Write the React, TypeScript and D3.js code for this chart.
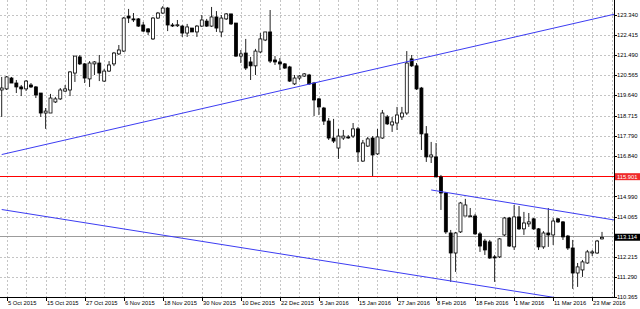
import React from "react";
import * as d3 from "d3";

const W = 640;
const H = 309;
const PLOT_RIGHT = 614;
const PLOT_BOTTOM = 297;

// Daily candles, 2 Oct 2015 .. 25 Mar 2016
const opens = [
  119.89, 119.94, 120.44, 120.21, 120.03, 119.94, 120.12, 120.03, 119.75, 118.83,
  118.83, 119.34, 119.48, 119.84, 119.89, 120.67, 121.41, 121.09, 120.40, 121.09,
  121.13, 120.30, 120.76, 121.09, 121.55, 121.68, 123.29, 123.16, 123.16, 122.88,
  122.70, 122.24, 123.20, 123.43, 123.66, 122.88, 122.88, 122.83, 122.51, 122.74,
  122.56, 122.83, 123.06, 122.83, 123.25, 122.56, 123.16, 123.39, 122.97, 121.45,
  121.59, 121.18, 121.00, 121.64, 122.19, 122.56, 121.27, 121.18, 121.09, 120.95,
  120.17, 120.44, 120.53, 120.58, 120.21, 119.48, 119.06, 118.46, 117.68, 117.22,
  117.68, 117.73, 117.77, 118.10, 116.62, 117.31, 117.68, 116.95, 117.68, 118.65,
  118.28, 118.37, 118.65, 118.83, 121.32, 121.00, 119.98, 117.87, 116.81, 116.81,
  115.89, 115.15, 113.31, 112.39, 113.36, 114.09, 114.09, 114.09, 113.27, 112.94,
  112.90, 112.21, 112.21, 113.22, 114.00, 112.67, 114.05, 113.50, 113.73, 113.96,
  113.50, 112.67, 113.31, 113.22, 113.96, 113.82, 113.17, 112.62, 111.47, 111.61,
  111.93, 112.39, 112.39, 113.04,
];
const highs = [
  120.49, 120.53, 120.49, 120.35, 120.12, 120.35, 120.21, 120.07, 119.75, 119.06,
  119.71, 119.57, 119.98, 120.12, 120.76, 121.45, 121.50, 121.13, 121.22, 121.22,
  121.50, 120.86, 121.22, 121.64, 121.96, 123.25, 123.62, 123.43, 123.20, 123.02,
  122.74, 123.25, 123.48, 123.75, 123.71, 122.97, 123.11, 122.88, 122.93, 122.74,
  122.88, 123.34, 123.16, 123.71, 123.52, 123.34, 123.43, 123.39, 122.97, 121.73,
  122.24, 121.41, 121.78, 122.51, 122.56, 123.57, 121.45, 121.36, 121.13, 121.00,
  120.58, 120.58, 120.67, 120.63, 120.26, 119.52, 119.11, 118.60, 118.56, 118.10,
  118.05, 117.82, 118.37, 118.19, 117.59, 117.73, 117.77, 118.10, 118.97, 118.74,
  118.65, 119.11, 119.11, 121.68, 121.50, 121.13, 120.03, 118.23, 117.50, 117.45,
  115.98, 115.20, 113.45, 113.36, 114.74, 114.88, 114.46, 114.19, 113.36, 113.04,
  112.99, 112.30, 113.08, 114.05, 114.05, 114.60, 114.55, 114.28, 114.23, 114.00,
  113.54, 113.40, 114.46, 114.00, 114.00, 113.86, 113.22, 112.99, 111.93, 112.07,
  112.53, 112.53, 112.99, 113.36,
];
const lows = [
  118.65, 119.89, 120.21, 119.75, 119.61, 119.84, 119.98, 119.52, 118.65, 118.10,
  118.83, 119.29, 119.43, 119.80, 119.61, 120.26, 121.04, 120.21, 120.03, 120.58,
  120.30, 120.26, 120.72, 120.99, 121.50, 121.64, 122.97, 123.02, 122.79, 122.56,
  122.42, 122.19, 123.16, 123.39, 122.60, 122.79, 122.79, 122.33, 122.33, 122.56,
  122.33, 122.79, 122.79, 122.79, 122.56, 122.33, 123.11, 122.88, 121.41, 121.13,
  120.81, 120.35, 120.58, 121.59, 122.14, 121.13, 121.04, 120.81, 120.86, 120.26,
  120.12, 120.35, 120.49, 120.12, 118.69, 118.74, 118.28, 117.59, 117.45, 116.72,
  117.59, 117.64, 117.68, 116.58, 116.58, 117.27, 115.93, 116.90, 117.64, 118.28,
  117.96, 118.05, 118.51, 118.74, 120.95, 119.89, 117.13, 116.58, 116.53, 115.89,
  114.37, 113.27, 111.06, 111.52, 113.31, 114.09, 114.05, 113.22, 112.44, 112.30,
  112.12, 111.06, 112.16, 113.17, 112.67, 112.53, 113.45, 113.22, 113.59, 113.45,
  112.53, 112.58, 112.67, 112.76, 113.77, 112.99, 112.53, 110.74, 110.83, 111.29,
  111.89, 112.25, 112.35, 113.01,
];
const closes = [
  119.98, 120.49, 120.21, 120.03, 119.94, 120.30, 120.03, 119.66, 118.83, 118.92,
  119.52, 119.48, 119.89, 119.94, 120.72, 121.45, 121.09, 120.44, 121.13, 121.18,
  120.67, 120.76, 121.04, 121.59, 121.73, 123.20, 123.20, 123.15, 122.83, 122.60,
  122.56, 123.20, 123.43, 123.66, 122.88, 122.87, 122.89, 122.51, 122.79, 122.56,
  122.83, 123.11, 122.83, 123.25, 122.74, 123.20, 123.39, 122.93, 121.45, 121.55,
  120.90, 121.00, 121.68, 122.24, 122.56, 121.22, 121.18, 121.09, 120.90, 120.30,
  120.44, 120.53, 120.63, 120.17, 119.43, 119.11, 118.46, 117.68, 117.54, 117.77,
  117.77, 117.72, 118.10, 117.04, 117.45, 117.64, 116.90, 117.73, 118.83, 118.33,
  118.42, 118.74, 118.83, 121.13, 121.00, 119.94, 117.87, 116.81, 116.90, 115.89,
  115.15, 113.36, 112.39, 113.31, 114.69, 114.60, 114.10, 113.27, 112.71, 112.53,
  112.16, 112.20, 113.04, 114.00, 112.71, 114.05, 113.50, 113.77, 113.82, 113.50,
  112.67, 113.31, 113.22, 113.86, 113.82, 113.13, 112.62, 111.47, 111.75, 111.98,
  112.44, 112.44, 112.94, 113.11,
];

const FIRST_DAY = new Date(2015, 9, 2);
const HOLIDAYS = ["2015-12-25", "2016-01-01"];

const yTickLabels = [
  "123.340", "122.415", "121.490", "120.565", "119.640", "118.715", "117.790",
  "116.840", "114.990", "114.065", "112.215", "111.290", "110.365",
];

const upperTrend = [
  { i: 0, p: 116.92 },
  { i: 126, p: 123.4 },
];
const lowerTrend = [
  { i: 0, p: 114.39 },
  { i: 124, p: 109.96 },
];
const channelTop = [
  { i: 88, p: 115.29 },
  { i: 126, p: 113.89 },
];
const supportLevel = 115.901;
const lastPrice = 113.114;

function tradingDays(n: number): Date[] {
  const key = d3.timeFormat("%Y-%m-%d");
  const out: Date[] = [];
  let d = FIRST_DAY;
  while (out.length < n) {
    const wd = d.getDay();
    if (wd !== 0 && wd !== 6 && !HOLIDAYS.includes(key(d))) out.push(d);
    d = d3.timeDay.offset(d, 1);
  }
  return out;
}

const FONT = "'Liberation Sans', Arial, sans-serif";
const FS = 5.8;

export default function App() {
  const n = opens.length;
  const dates = tradingDays(n);
  const x = d3.scaleLinear().domain([0, 123]).range([1.7, 602]);
  const y = d3.scaleLinear().domain([110.365, 123.34]).range([PLOT_BOTTOM, 15]);
  const fmt = d3.timeFormat("%-d %b %Y");

  const gridIdx: number[] = [];
  for (let k = 1; x(k) <= PLOT_RIGHT - 1; k += 4) gridIdx.push(k);
  const labelIdx: number[] = [];
  for (let k = 1; k < n; k += 8) labelIdx.push(k);

  const gridLevels = yTickLabels.map(Number);

  const line = d3
    .line<{ i: number; p: number }>()
    .x((d) => x(d.i))
    .y((d) => y(d.p));

  const bw = 3;
  const supY = Math.round(y(supportLevel)) - 0.5;
  const lastY = Math.round(y(lastPrice)) - 0.5;

  return (
    <svg
      width={W}
      height={H}
      style={{ position: "absolute", left: 0, top: 0, background: "#fff" }}
    >
      <defs>
        <clipPath id="plot">
          <rect x={0} y={0} width={PLOT_RIGHT} height={PLOT_BOTTOM} />
        </clipPath>
      </defs>
      <rect x={0} y={0} width={W} height={H} fill="#fff" />
      {/* grid */}
      <g stroke="#c4c4c4" strokeWidth={1} strokeDasharray="2,2" shapeRendering="crispEdges">
        {gridIdx.map((k) => (
          <line key={"gx" + k} x1={Math.round(x(k)) + 0.5} x2={Math.round(x(k)) + 0.5} y1={0} y2={PLOT_BOTTOM} />
        ))}
        {gridLevels.map((v) => (
          <line key={"gy" + v} x1={0} x2={PLOT_RIGHT} y1={Math.round(y(v)) + 0.5} y2={Math.round(y(v)) + 0.5} />
        ))}
      </g>
      <g clipPath="url(#plot)">
        {/* last price line */}
        <line x1={0} x2={PLOT_RIGHT} y1={lastY} y2={lastY} stroke="#9c9c9c" strokeWidth={1} />
        {/* support level */}
        <line x1={0} x2={PLOT_RIGHT} y1={supY} y2={supY} stroke="#ff0000" strokeWidth={1} />
        {/* candles */}
        {opens.map((o, i) => {
          const c = closes[i];
          const cx = x(i);
          const top = y(Math.max(o, c));
          const bot = y(Math.min(o, c));
          const bull = c >= o;
          const h = Math.max(1, bot - top);
          return (
            <g key={i}>
              <line x1={cx} x2={cx} y1={y(highs[i])} y2={y(lows[i])} stroke="#222" strokeWidth={1} />
              <rect
                x={cx - bw / 2}
                y={top}
                width={bw}
                height={h}
                fill={bull ? "#fff" : "#000"}
                stroke="#000"
                strokeWidth={0.8}
              />
            </g>
          );
        })}
        {/* trend lines */}
        <path d={line(upperTrend) || ""} stroke="#3c3cf2" strokeWidth={1} fill="none" />
        <path d={line(lowerTrend) || ""} stroke="#3c3cf2" strokeWidth={1} fill="none" />
        <path d={line(channelTop) || ""} stroke="#3c3cf2" strokeWidth={1} fill="none" />
      </g>
      {/* axes */}
      <g stroke="#000" strokeWidth={1} shapeRendering="crispEdges">
        <line x1={PLOT_RIGHT + 0.5} x2={PLOT_RIGHT + 0.5} y1={0} y2={PLOT_BOTTOM + 1} />
        <line x1={0} x2={PLOT_RIGHT + 1} y1={PLOT_BOTTOM + 0.5} y2={PLOT_BOTTOM + 0.5} />
        {labelIdx.map((k) => (
          <line key={"tx" + k} x1={Math.round(x(k)) + 0.5} x2={Math.round(x(k)) + 0.5} y1={PLOT_BOTTOM} y2={PLOT_BOTTOM + 4} />
        ))}
        {yTickLabels.map((t) => (
          <line key={"ty" + t} x1={PLOT_RIGHT} x2={PLOT_RIGHT + 3} y1={Math.round(y(+t)) + 0.5} y2={Math.round(y(+t)) + 0.5} />
        ))}
      </g>
      <g fontFamily={FONT} fontSize={FS} fill="#000">
        {labelIdx.map((k) => (
          <text key={"lx" + k} x={Math.round(x(k)) + 1} y={PLOT_BOTTOM + 7.5}>
            {fmt(dates[k])}
          </text>
        ))}
        {yTickLabels.map((t) => (
          <text key={"ly" + t} x={617} y={y(+t)} dy="0.35em">
            {t}
          </text>
        ))}
      </g>
      {/* price markers */}
      <rect x={PLOT_RIGHT + 1} y={y(supportLevel) - 3.5} width={W - PLOT_RIGHT - 1} height={7} fill="#f02a2a" />
      <text x={617} y={y(supportLevel)} dy="0.35em" fontFamily={FONT} fontSize={FS} fill="#fff">
        {supportLevel.toFixed(3)}
      </text>
      <rect x={PLOT_RIGHT + 1} y={y(lastPrice) - 3.5} width={W - PLOT_RIGHT - 1} height={7} fill="#000" />
      <text x={617} y={y(lastPrice)} dy="0.35em" fontFamily={FONT} fontSize={FS} fill="#fff">
        {lastPrice.toFixed(3)}
      </text>
    </svg>
  );
}
